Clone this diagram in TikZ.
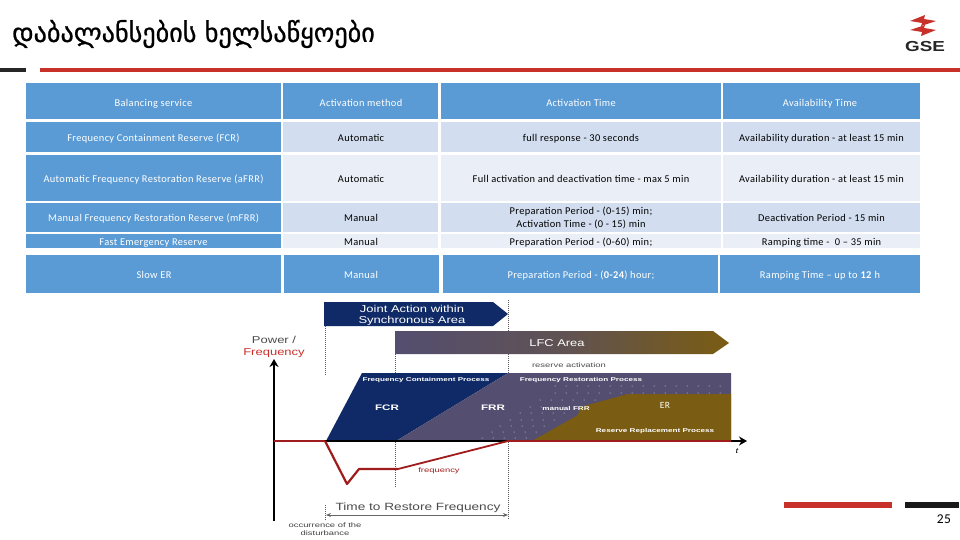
\documentclass[tikz,border=0pt]{standalone}
\usepackage{fontspec}
\setmainfont[LetterSpace=3.3]{Carlito}
\newfontfamily\geo[FakeBold=0.8]{DejaVu Sans}
\newfontfamily\arialm[FakeStretch=1.3]{Liberation Sans}
\newfontfamily\arialw[FakeStretch=1.45]{Liberation Sans}
\usetikzlibrary{arrows.meta,shadings}
\definecolor{hdr}{HTML}{5B9BD5}
\definecolor{rowa}{HTML}{D2DEEF}
\definecolor{rowb}{HTML}{EAEFF7}
\definecolor{gred}{HTML}{C8302A}
\definecolor{navy}{HTML}{0F2A66}
\definecolor{purp}{HTML}{544E70}
\definecolor{olive}{HTML}{7A5C12}
\definecolor{darkred}{HTML}{A01C1C}
\tikzset{
 cell/.style={inner sep=0pt,yshift=-1.6pt,font=\fontsize{10.4}{13}\selectfont,align=center,text=black,execute at begin node=\strut},
 hc/.style={cell,text=white},
 lbl/.style={inner sep=0pt,font=\arialw\bfseries\fontsize{5.6}{7}\selectfont,text=white},
 big/.style={inner sep=0pt,font=\arialm\fontsize{10}{11.5}\selectfont,align=center},
 guide/.style={densely dotted,line width=1pt,black!65},
}
\newcommand{\rowcells}[8]{%
 \fill[#1] (26,#3) rectangle (281,#4);
 \fill[#2] (283,#3) rectangle (438,#4);
 \fill[#2] (441,#3) rectangle (721,#4);
 \fill[#2] (723,#3) rectangle (920,#4);
 \node[hc] at (153.5,{(#3+#4)/2}) {#5};
 \node[cell] at (361,{(#3+#4)/2}) {#6};
 \node[cell] at (581,{(#3+#4)/2}) {#7};
 \node[cell] at (821.5,{(#3+#4)/2}) {#8};
}
\begin{document}
\begin{tikzpicture}[x=1pt,y=-1pt]
\useasboundingbox (0,0) rectangle (960,540);
\fill[white] (0,0) rectangle (960,540);
% title
\node[anchor=west,inner sep=0pt,font=\geo\fontsize{26.2}{30}\selectfont] (title) at (12,34) {დაბალანსების ხელსაწყოები};
% rules
\fill[black!85] (0,68) rectangle (26,72.5);
\fill[gred] (40,68) rectangle (960,72.5);
\fill[gred] (784,502) rectangle (892,507.5);
\fill[black!90] (905,502) rectangle (959,507.5);
\node[inner sep=0pt,font=\fontsize{13.5}{15}\selectfont] (page) at (944,519) {25};
% logo
\fill[gred] (910,21) -- (925,15) -- (924,19) -- (936,21) -- (921,26) -- (922,23) -- cycle;
\fill[gred] (910,30) -- (925,25) -- (924,28) -- (936,30) -- (921,36) -- (922,32) -- cycle;
\node[inner sep=0pt,font=\arialm\bfseries\fontsize{14.5}{17}\selectfont,text=black!85] (gse) at (925,46.5) {GSE};
% table
\fill[hdr] (26,83) rectangle (281,119);
\fill[hdr] (283,83) rectangle (438,119);
\fill[hdr] (441,83) rectangle (721,119);
\fill[hdr] (723,83) rectangle (920,119);
\node[hc] (h1) at (153.5,102) {Balancing service};
\node[hc] (h2) at (361,102) {Activation method};
\node[hc] (h3) at (581,102) {Activation Time};
\node[hc] (h4) at (820,102) {Availability Time};
\rowcells{hdr}{rowa}{122}{152}{Frequency Containment Reserve (FCR)}{Automatic}{full response - 30 seconds}{Availability duration - at least 15 min}
\rowcells{hdr}{rowb}{155}{201}{Automatic Frequency Restoration Reserve (aFRR)}{Automatic}{Full activation and deactivation time - max 5 min}{Availability duration - at least 15 min}
\rowcells{hdr}{rowa}{203}{232}{Manual Frequency Restoration Reserve (mFRR)}{Manual}{Preparation Period - (0-15) min;\\\strut Activation Time - (0 - 15) min}{Deactivation Period - 15 min}
\rowcells{hdr}{rowb}{234}{248}{Fast Emergency Reserve}{Manual}{Preparation Period - (0-60) min;}{Ramping time -\ \ 0 – 35 min}
\fill[hdr] (26,255) rectangle (281,293);
\fill[hdr] (284,255) rectangle (439,293);
\fill[hdr] (443,255) rectangle (718,293);
\fill[hdr] (720,255) rectangle (920,293);
\node[hc] (s1) at (154,274) {Slow ER};
\node[hc] (s2) at (361,274) {Manual};
\node[hc] (s3) at (581,274) {Preparation Period - (\textbf{0-24}) hour;};
\node[hc] (s4) at (820,274) {Ramping Time – up to \textbf{12} h};
% diagram: guides
\coordinate (t0) at (325,441);
\draw[guide] (325,302) -- (325,375);
\draw[guide] (325,505) -- (325,521);
\draw[guide] (395.5,354) -- (395.5,488);
\draw[guide] (508,300) -- (508,520);
% banners
\fill[navy] (324,302) -- (493,302) -- (508,314) -- (493,326) -- (324,326) -- cycle;
\node[big,text=white] (joint) at (412,315) {Joint Action within\\[-0.5pt]Synchronous Area};
\shade[left color=purp,right color=olive,middle color=purp!70!olive] (395,331) -- (713,331) -- (729,343) -- (713,354) -- (395,354) -- cycle;
\node[inner sep=0pt,font=\arialm\fontsize{9.9}{11}\selectfont,text=white] (lfc) at (557,343.5) {LFC Area};
\node[inner sep=0pt,font=\arialw\fontsize{6.5}{8}\selectfont,text=black!70] (res) at (569,365) {reserve activation};
% process shapes
\fill[navy] (326,441) -- (362,373) -- (508,373) -- (396,441) -- cycle;
\fill[purp] (396,441) -- (508,373) -- (731,373) -- (731,441) -- cycle;
\fill[olive] (532,441) -- (578,415) -- (580,407) -- (628,394) -- (731,394) -- (731,441) -- cycle;
% dots
\foreach \y/\a/\b in {386/555/731,393/555/731,400/540/600,407/530/580,413/520/575,420/510/565,426/500/550,432/492/540,438/482/530}{
  \foreach \x in {0,...,24}{
    \pgfmathsetmacro{\xx}{\a+\x*11}
    \pgfmathparse{\xx<\b?1:0}
    \ifnum\pgfmathresult=1 \fill[white!85!purp] (\xx,\y) circle (0.5);\fi
  }
}
\node[lbl] (fcp) at (426,380) {Frequency Containment Process};
\node[lbl] (frp) at (581,380) {Frequency Restoration Process};
\node[lbl,font=\arialw\bfseries\fontsize{8}{9}\selectfont] (fcr) at (387,408) {FCR};
\node[lbl,font=\arialw\bfseries\fontsize{8}{9}\selectfont] (frr) at (493,408) {FRR};
\node[lbl] (mfrr) at (566,408) {manual FRR};
\node[lbl] (rrp) at (655,431) {Reserve Replacement Process};
\node[inner sep=0pt,font=\fontsize{9.5}{11}\selectfont,text=white] (er) at (665,405) {ER};
% axes
\coordinate (ax0) at (274,441);
\coordinate (axt) at (747,441);
\coordinate (ayt) at (274,359);
\coordinate (ayb) at (274,521);
\draw[black,line width=1.3pt,-{Stealth[length=8pt,width=9pt]}] (ayb) -- (ayt);
\draw[black,line width=1.2pt,-{Stealth[length=8pt,width=9pt]}] (ax0) -- (t0) -- (axt);
\draw[darkred,line width=1.8pt] (ax0) -- (t0);
\draw[darkred,line width=2pt] (508,441) -- (731,441);
\draw[darkred,line width=2.2pt,line join=round] (t0) -- (347,484) -- (359,469) -- (398,469);
\draw[darkred,line width=1.8pt,line join=round] (398,469) -- (508,441);
\node[inner sep=0pt,font=\arialm\itshape\fontsize{7.5}{8}\selectfont] (tlab) at (737,451) {t};
\node[inner sep=0pt,font=\arialw\fontsize{6.5}{8}\selectfont,text=darkred] (fq) at (439,471) {frequency};
\node[big] (pf) at (274,346.5) {\textcolor{black!70}{Power /}\\[0.5pt]\textcolor{gred}{Frequency}};
% time
\node[inner sep=0pt,font=\arialm\fontsize{10.5}{12}\selectfont,text=black!70] (ttr) at (418,507.5) {Time to Restore Frequency};
\coordinate (ta) at (326,515);
\coordinate (tb) at (508,515);
\draw[black!60,line width=.7pt,{Stealth[length=5pt,width=4pt]}-{Stealth[length=5pt,width=4pt]}] (ta) -- (tb);
\node[inner sep=0pt,align=center,font=\arialw\fontsize{6.5}{7.5}\selectfont,text=black!75] (occ) at (325,529) {occurrence of the\\disturbance};
\end{tikzpicture}
\end{document}
